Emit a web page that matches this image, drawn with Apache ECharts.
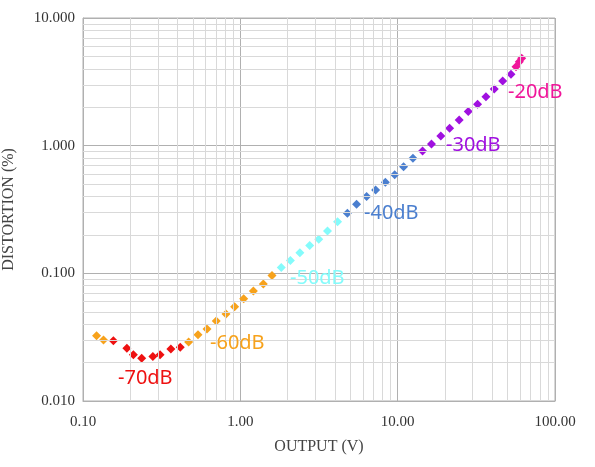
<!DOCTYPE html>
<html><head><meta charset="utf-8">
<script src="https://cdn.jsdelivr.net/npm/echarts@6/dist/echarts.min.js"></script>
<style>html,body{margin:0;padding:0;background:#fff}#c{width:595px;height:467px}</style>
</head><body><div id="c"></div>
<script>
// --- data (output V, distortion %)
const segNames = ["-70dB", "-60dB", "-50dB", "-40dB", "-30dB", "-20dB"];
const segColors = ["#ee1111", "#f7a21b", "#84fbfb", "#4b7fcf", "#a010e0", "#f0169a"];
const orangeLowX = [0.122, 0.135];
const orangeLowY = [0.0324, 0.0301];
const red70X = [0.156, 0.190, 0.209, 0.236, 0.278, 0.309, 0.362, 0.415];
const red70Y = [0.0296, 0.0259, 0.0230, 0.0216, 0.0223, 0.0230, 0.0255, 0.0264];
const orange60X = [0.469, 0.538, 0.614, 0.703, 0.811, 0.920, 1.05, 1.21, 1.40, 1.59];
const orange60Y = [0.0290, 0.0331, 0.0367, 0.0424, 0.0481, 0.0548, 0.0631, 0.0728, 0.0826, 0.0960];
const cyan50X = [1.82, 2.08, 2.39, 2.76, 3.15, 3.58, 4.15];
const cyan50Y = [0.111, 0.126, 0.145, 0.165, 0.185, 0.215, 0.253];
const blue40X = [4.79, 5.48, 6.35, 7.24, 8.35, 9.57, 10.9, 12.5];
const blue40Y = [0.296, 0.348, 0.399, 0.450, 0.516, 0.593, 0.685, 0.796];
const purple30X = [14.4, 16.4, 18.8, 21.4, 24.6, 28.1, 32.2, 36.4, 41.1, 46.5, 52.5];
const purple30Y = [0.908, 1.03, 1.19, 1.37, 1.59, 1.85, 2.11, 2.42, 2.78, 3.21, 3.62];
const pink20X = [56.5, 59.3, 61.4];
const pink20Y = [4.16, 4.55, 4.83];
const xDecades = [0.1, 1, 10, 100];
const yDecades = [0.01, 0.1, 1, 10];

const zip = (xs, ys) => xs.map((x, i) => [x, ys[i]]);
const segs = [
  { c: 0, d: zip(red70X, red70Y) },
  { c: 1, d: zip(orangeLowX, orangeLowY).concat(zip(orange60X, orange60Y)) },
  { c: 2, d: zip(cyan50X, cyan50Y) },
  { c: 3, d: zip(blue40X, blue40Y) },
  { c: 4, d: zip(purple30X, purple30Y) },
  { c: 5, d: zip(pink20X, pink20Y) }
];

// minor log grid lines (2..9 per decade)
const minorX = [], minorY = [];
xDecades.slice(0, -1).forEach(d => { for (let k = 2; k <= 9; k++) minorX.push({ xAxis: d * k }); });
yDecades.slice(0, -1).forEach(d => { for (let k = 2; k <= 9; k++) minorY.push({ yAxis: d * k }); });

const chart = echarts.init(document.getElementById("c"));
const serif = "Liberation Serif";
const series = [{
  type: "line", data: [], silent: true,
  markLine: {
    silent: true, symbol: "none", label: { show: false }, animation: false,
    lineStyle: { color: "#d9d9d9", type: "solid", width: 1 },
    data: minorX.concat(minorY)
  }
}];
segs.forEach(s => series.push({
  type: "scatter", name: segNames[s.c], data: s.d,
  symbol: "diamond", symbolSize: 9,
  itemStyle: { color: segColors[s.c], opacity: 1 }
}));

// labels placed near curve ends
const labels = [
  { t: "-70dB", x: 118, y: 368, c: 0 },
  { t: "-60dB", x: 210, y: 333, c: 1 },
  { t: "-50dB", x: 290, y: 268, c: 2 },
  { t: "-40dB", x: 364, y: 203, c: 3 },
  { t: "-30dB", x: 446, y: 135, c: 4 },
  { t: "-20dB", x: 508, y: 82, c: 5 }
];

chart.setOption({
  animation: false,
  grid: {
    left: 83, right: 40, top: 18, bottom: 66, containLabel: false, outerBoundsMode: "none",
    show: true, borderColor: "#b0b0b0", borderWidth: 1
  },
  xAxis: {
    type: "log", min: 0.1, max: 100, logBase: 10,
    name: "OUTPUT (V)", nameLocation: "middle", nameGap: 38,
    nameTextStyle: { fontFamily: serif, fontSize: 16, color: "#444" },
    axisLine: { show: true, lineStyle: { color: "#b0b0b0" } },
    axisTick: { show: false },
    axisLabel: { fontFamily: serif, fontSize: 15, color: "#333", margin: 14, formatter: v => v.toFixed(2) },
    splitLine: { show: true, lineStyle: { color: "#b0b0b0" } }
  },
  yAxis: {
    type: "log", min: 0.01, max: 10, logBase: 10,
    name: "DISTORTION (%)", nameLocation: "middle", nameGap: 66,
    nameTextStyle: { fontFamily: serif, fontSize: 16, color: "#444" },
    axisLine: { show: true, lineStyle: { color: "#b0b0b0" } },
    axisTick: { show: false },
    axisLabel: { fontFamily: serif, fontSize: 15, color: "#333", margin: 8, formatter: v => v.toFixed(3) },
    splitLine: { show: true, lineStyle: { color: "#b0b0b0" } }
  },
  graphic: labels.map(l => ({
    type: "text", left: l.x, top: l.y, z: 10,
    style: { text: l.t, fill: segColors[l.c], font: "20px 'Noto Sans'" }
  })),
  series
});
</script></body></html>
